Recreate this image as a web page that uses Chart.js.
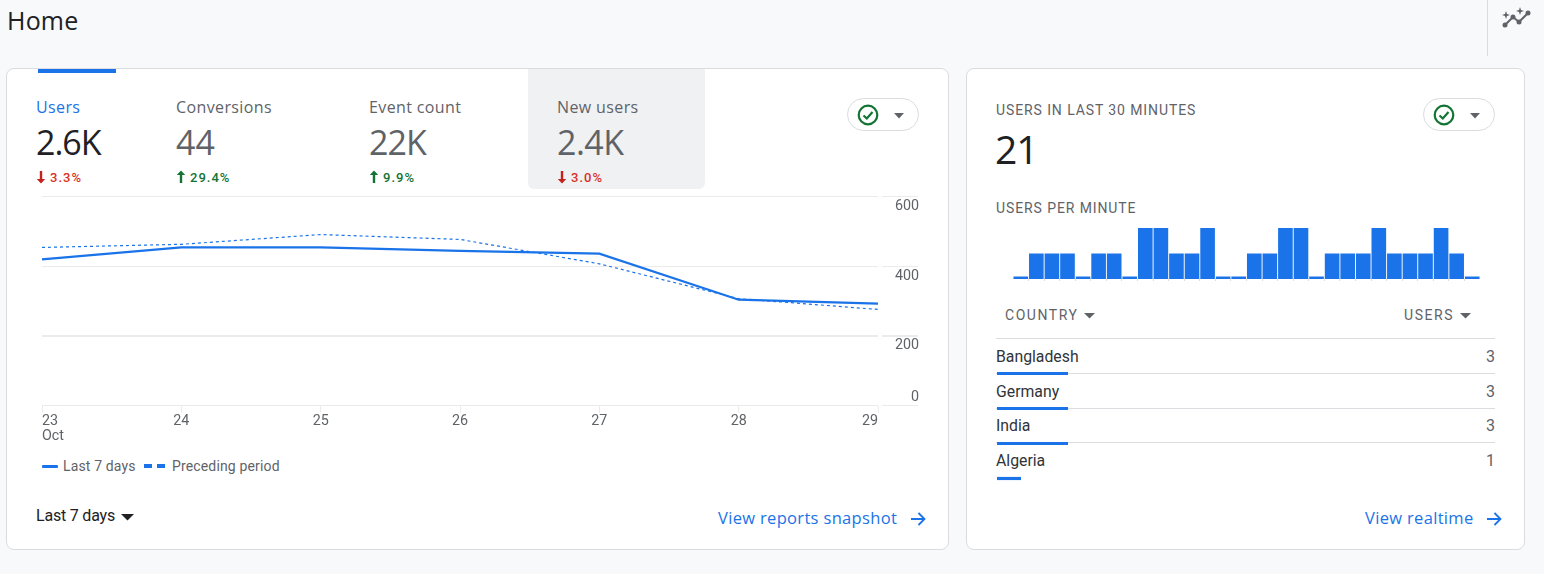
<!DOCTYPE html>
<html>
<head>
<meta charset="utf-8">
<title>Home</title>
<script src="https://cdn.jsdelivr.net/npm/chart.js@4"></script>
<style>
    html, body { margin: 0; padding: 0; width: 1544px; height: 574px; overflow: hidden; background: #f8f9fb; font-family: Roboto, sans-serif; }
    .abs, .card, canvas, svg { position: absolute; }
    .abs { white-space: nowrap; line-height: 20px; }
    .card { background: #fff; border: 1px solid #dadce0; border-radius: 8px; box-sizing: border-box; }
    .gs { font-family: "Open Sans", sans-serif; }
    .metric { font-size: 16px; color: #5f6368; letter-spacing: 0.38px; }
    .big { font-family: "Open Sans", sans-serif; font-size: 34px; color: #5f6368; line-height: 40px; letter-spacing: -1px; }
    .delta { font-size: 13px; font-weight: 500; letter-spacing: 1px; }
    .up { color: #137333; }
    .down { color: #d93025; }
    .caps { font-size: 14px; color: #5f6368; letter-spacing: 0.9px; }
    .head { font-size: 14px; color: #5f6368; letter-spacing: 1.55px; }
    .pill { background: #fff; border: 1px solid #dadce0; border-radius: 17px; box-sizing: border-box; width: 72px; height: 33px; position: absolute; }
    .rowline { position: absolute; left: 996px; width: 499px; height: 1px; background: #dadce0; }
    .name { font-size: 15.8px; color: #303438; }
    .link { font-size: 16.5px; color: #1a73e8; font-family: "Open Sans", sans-serif; letter-spacing: 0.33px; }
    .legend { font-size: 14px; color: #5f6368; letter-spacing: 0.15px; }
</style>
</head>
<body>

<div class="abs gs" style="left:7px;top:5px;font-size:25px;line-height:30px;color:#202124;letter-spacing:0.2px;">Home</div>
<div style="position:absolute;left:1487px;top:0;width:1px;height:56px;background:#dadce0;"></div>
<svg style="left:1501px;top:6px;" width="32" height="24" viewBox="0 0 32 24">
    <polyline points="4,19 12,11 18,16 27,7" fill="none" stroke="#5f6368" stroke-width="2"/>
    <circle cx="4" cy="19" r="2.5" fill="#5f6368"/><circle cx="12" cy="11" r="2.5" fill="#5f6368"/>
    <circle cx="18" cy="16" r="2.5" fill="#5f6368"/><circle cx="27" cy="7" r="2.5" fill="#5f6368"/>
    <path d="M5 6 L6 9 L9 10 L6 11 L5 14 L4 11 L1 10 L4 9 Z M19 2 L20 5 L23 6 L20 7 L19 10 L18 7 L15 6 L18 5 Z" fill="#5f6368" transform="translate(0,-1)"/>
</svg>

<div class="card" style="left:6px;top:68px;width:943px;height:482px;"></div>
<div class="card" style="left:966px;top:68px;width:559px;height:482px;"></div>

<div style="position:absolute;left:38px;top:69px;width:78px;height:4px;background:#1a73e8;"></div>
<div style="position:absolute;left:528px;top:69px;width:177px;height:120px;background:#f0f1f3;border-radius:0 0 6px 6px;"></div>

<div class="abs metric gs" style="left:36px;top:97px;color:#1a73e8;">Users</div>
<div class="abs big" style="left:36px;top:122px;color:#202124;">2.6K</div>
<svg style="left:35px;top:170px;" width="12" height="14" viewBox="0 0 12 14"><path d="M4.8 1h2.4v8h3l-4.2 4.5L1.800 9h3z" fill="#c5221f"/></svg>
<div class="abs delta down" style="left:50px;top:168px;">3.3%</div>

<div class="abs metric gs" style="left:176px;top:97px;">Conversions</div>
<div class="abs big" style="left:176px;top:122px;letter-spacing:0;">44</div>
<svg style="left:175px;top:170px;" width="12" height="14" viewBox="0 0 12 14"><path d="M4.800 13h2.400V5h3L6 .5 1.800 5h3z" fill="#137333"/></svg>
<div class="abs delta up" style="left:190px;top:168px;">29.4%</div>

<div class="abs metric gs" style="left:369px;top:97px;">Event count</div>
<div class="abs big" style="left:369px;top:122px;">22K</div>
<svg style="left:368px;top:170px;" width="12" height="14" viewBox="0 0 12 14"><path d="M4.800 13h2.400V5h3L6 .5 1.800 5h3z" fill="#137333"/></svg>
<div class="abs delta up" style="left:383px;top:168px;">9.9%</div>

<div class="abs metric gs" style="left:557px;top:97px;">New users</div>
<div class="abs big" style="left:557px;top:122px;letter-spacing:-0.5px;">2.4K</div>
<svg style="left:556px;top:170px;" width="12" height="14" viewBox="0 0 12 14"><path d="M4.8 1h2.4v8h3l-4.2 4.5L1.800 9h3z" fill="#c5221f"/></svg>
<div class="abs delta down" style="left:571px;top:168px;">3.0%</div>

<div class="pill" style="left:847px;top:98px;"></div>
<svg style="left:857px;top:104px;" width="22" height="22" viewBox="0 0 22 22"><circle cx="11" cy="11" r="9.3" fill="none" stroke="#137333" stroke-width="2.2"/><polyline points="6.500,11.500 9.800,14.500 15.500,8" fill="none" stroke="#137333" stroke-width="2.2"/></svg>
<svg style="left:894px;top:113px;" width="10" height="6" viewBox="0 0 10 6"><path d="M0 0h10L5 5.500z" fill="#5f6368"/></svg>

<canvas id="trendChart" width="892" height="264" style="left:30px;top:185px;width:892px;height:264px;"></canvas>

<div style="position:absolute;left:42px;top:465px;width:16px;height:3px;background:#1a73e8;border-radius:1px;"></div>
<div class="abs legend" style="left:63px;top:456px;">Last 7 days</div>
<div style="position:absolute;left:144px;top:464px;width:8px;height:4px;background:#1a73e8;"></div>
<div style="position:absolute;left:157px;top:464px;width:8px;height:4px;background:#1a73e8;"></div>
<div class="abs legend" style="left:172px;top:456px;">Preceding period</div>

<div class="abs" style="left:36px;top:506px;font-size:16px;color:#202124;letter-spacing:-0.2px;">Last 7 days</div>
<svg style="left:121px;top:514px;" width="13" height="7" viewBox="0 0 13 7"><path d="M0 0h13L6.500 6.500z" fill="#202124"/></svg>
<div class="abs link" style="left:718px;top:508px;">View reports snapshot</div>
<svg style="left:909px;top:510px;" width="18" height="18" viewBox="0 0 18 18"><path d="M2 9h13M9.500 3l6 6-6 6" fill="none" stroke="#1a73e8" stroke-width="1.800"/></svg>

<div class="abs caps" style="left:996px;top:100px;">USERS IN LAST 30 MINUTES</div>
<div class="abs big" style="left:995px;top:127px;font-size:39px;line-height:44px;color:#202124;">21</div>
<div class="pill" style="left:1423px;top:98px;"></div>
<svg style="left:1433px;top:104px;" width="22" height="22" viewBox="0 0 22 22"><circle cx="11" cy="11" r="9.3" fill="none" stroke="#137333" stroke-width="2.2"/><polyline points="6.500,11.500 9.800,14.500 15.500,8" fill="none" stroke="#137333" stroke-width="2.2"/></svg>
<svg style="left:1470px;top:113px;" width="10" height="6" viewBox="0 0 10 6"><path d="M0 0h10L5 5.500z" fill="#5f6368"/></svg>

<div class="abs caps" style="left:996px;top:198px;">USERS PER MINUTE</div>
<canvas id="minuteChart" width="467" height="56" style="left:1013px;top:226px;width:467px;height:56px;"></canvas>

<div class="abs head" style="left:1005px;top:305px;">COUNTRY</div>
<svg style="left:1084px;top:313px;" width="11" height="6" viewBox="0 0 11 6"><path d="M0 0h11L5.500 5.500z" fill="#5f6368"/></svg>
<div class="abs head" style="left:1404px;top:305px;">USERS</div>
<svg style="left:1460px;top:313px;" width="11" height="6" viewBox="0 0 11 6"><path d="M0 0h11L5.500 5.500z" fill="#5f6368"/></svg>
<div class="rowline" style="top:338px;"></div>
<div id="countryRows"></div>
<canvas id="countryChart" width="71" height="140" style="left:997px;top:356px;width:71px;height:140px;"></canvas>

<div class="abs link" style="left:1365px;top:508px;">View realtime</div>
<svg style="left:1485px;top:510px;" width="18" height="18" viewBox="0 0 18 18"><path d="M2 9h13M9.500 3l6 6-6 6" fill="none" stroke="#1a73e8" stroke-width="1.800"/></svg>

<script>
// Data
const days = [['23', 'Oct'], '24', '25', '26', '27', '28', '29'];
const last7Days = [420, 454, 454, 444, 436, 304, 293];
const precedingPeriod = [454, 463, 491, 477, 407, 307, 276];

const usersPerMinute = [0, 1, 1, 1, 0, 1, 1, 0, 2, 2, 1, 1, 2, 0, 0, 1, 1, 2, 2, 0, 1, 1, 1, 2, 1, 1, 1, 2, 1, 0];

const countries = [
    { name: 'Bangladesh', users: 3 },
    { name: 'Germany', users: 3 },
    { name: 'India', users: 3 },
    { name: 'Algeria', users: 1 }
];

const blue = '#1a73e8';
const gridColor = '#ebebeb';
const textColor = '#5f6368';

Chart.defaults.font.family = 'Roboto';
Chart.defaults.animation = false;
Chart.defaults.responsive = false;

// Gridline stubs to the right of the plot and the "0" label, which sits above its line
const axisExtras = {
    id: 'axisExtras',
    afterDraw(chart) {
        const ctx = chart.ctx;
        const y = chart.scales.y;
        ctx.save();
        y.ticks.forEach(tick => {
            const thick = tick.value === 200;
            const py = thick ? 151 : Math.round(y.getPixelForValue(tick.value) - 0.5) + 0.5;
            ctx.strokeStyle = gridColor;
            ctx.lineWidth = thick ? 2 : 1;
            ctx.beginPath();
            ctx.moveTo(chart.chartArea.right + 4, py);
            ctx.lineTo(y.right - 1, py);
            ctx.stroke();
        });
        ctx.fillStyle = textColor;
        ctx.font = '14.3px Roboto';
        ctx.textAlign = 'right';
        ctx.textBaseline = 'middle';
        ctx.fillText('0', y.right, y.getPixelForValue(0) - 8);
        ctx.restore();
    }
};

new Chart(document.getElementById('trendChart'), {
    type: 'line',
    plugins: [axisExtras],
    data: {
        labels: days,
        datasets: [
            { label: 'Last 7 days', data: last7Days, borderColor: blue, borderWidth: 2.2, pointRadius: 0, tension: 0 },
            { label: 'Preceding period', data: precedingPeriod, borderColor: blue, borderWidth: 1.2, borderDash: [3, 3], pointRadius: 0, tension: 0 }
        ]
    },
    options: {
        layout: { padding: { left: 12, top: 10.4, right: 3, bottom: 0 } },
        plugins: { legend: { display: false } },
        scales: {
            x: {
                afterFit(scale) { scale.height = 43.4; },
                border: { display: false },
                grid: { color: gridColor, drawOnChartArea: false, tickLength: 7 },
                ticks: { align: 'inner', color: textColor, font: { size: 14.3, lineHeight: 1.05 }, padding: 1, maxRotation: 0, autoSkip: false }
            },
            y: {
                position: 'right',
                min: 0,
                max: 600,
                afterFit(scale) { scale.width = 41; },
                border: { display: false },
                grid: {
                    color: gridColor,
                    drawTicks: false,
                    lineWidth: c => (c.tick && c.tick.value === 200 ? 2 : 1)
                },
                ticks: {
                    stepSize: 200,
                    color: textColor,
                    font: { size: 14.3 },
                    crossAlign: 'far',
                    labelOffset: 10,
                    callback: v => (v === 0 ? '' : v)
                }
            }
        }
    }
});

new Chart(document.getElementById('minuteChart'), {
    type: 'bar',
    data: {
        labels: usersPerMinute.map((_, i) => i + 1),
        datasets: [{ data: usersPerMinute, backgroundColor: blue, barPercentage: 0.94, categoryPercentage: 1, minBarLength: 2.5 }]
    },
    options: {
        layout: { padding: { top: 2 } },
        plugins: { legend: { display: false } },
        scales: {
            x: {
                afterFit(scale) { scale.height = 3; },
                border: { display: false },
                grid: { color: '#dadce0', drawOnChartArea: false, tickLength: 2 },
                ticks: { display: false }
            },
            y: { display: false, min: 0, max: 2 }
        }
    }
});

// Table rows
const rows = document.getElementById('countryRows');
const rowCenters = [357, 392, 426, 461];
countries.forEach((c, i) => {
    rows.insertAdjacentHTML('beforeend',
        `<div class="abs name" style="left:996px;top:${rowCenters[i] - 10}px;">${c.name}</div>` +
        `<div class="abs" style="right:${1544 - 1495}px;top:${rowCenters[i] - 10}px;font-size:16px;color:#5f6368;">${c.users}</div>` +
        (i < 3 ? `<div class="rowline" style="top:${[373, 408, 442][i]}px;"></div>` : ''));
});

new Chart(document.getElementById('countryChart'), {
    type: 'bar',
    data: {
        labels: countries.map(c => c.name),
        datasets: [{ data: countries.map(c => c.users), backgroundColor: blue, barThickness: 2.5 }]
    },
    options: {
        indexAxis: 'y',
        plugins: { legend: { display: false } },
        scales: {
            x: { display: false, min: 0, max: 3 },
            y: { display: false }
        }
    }
});
</script>
</body>
</html>
